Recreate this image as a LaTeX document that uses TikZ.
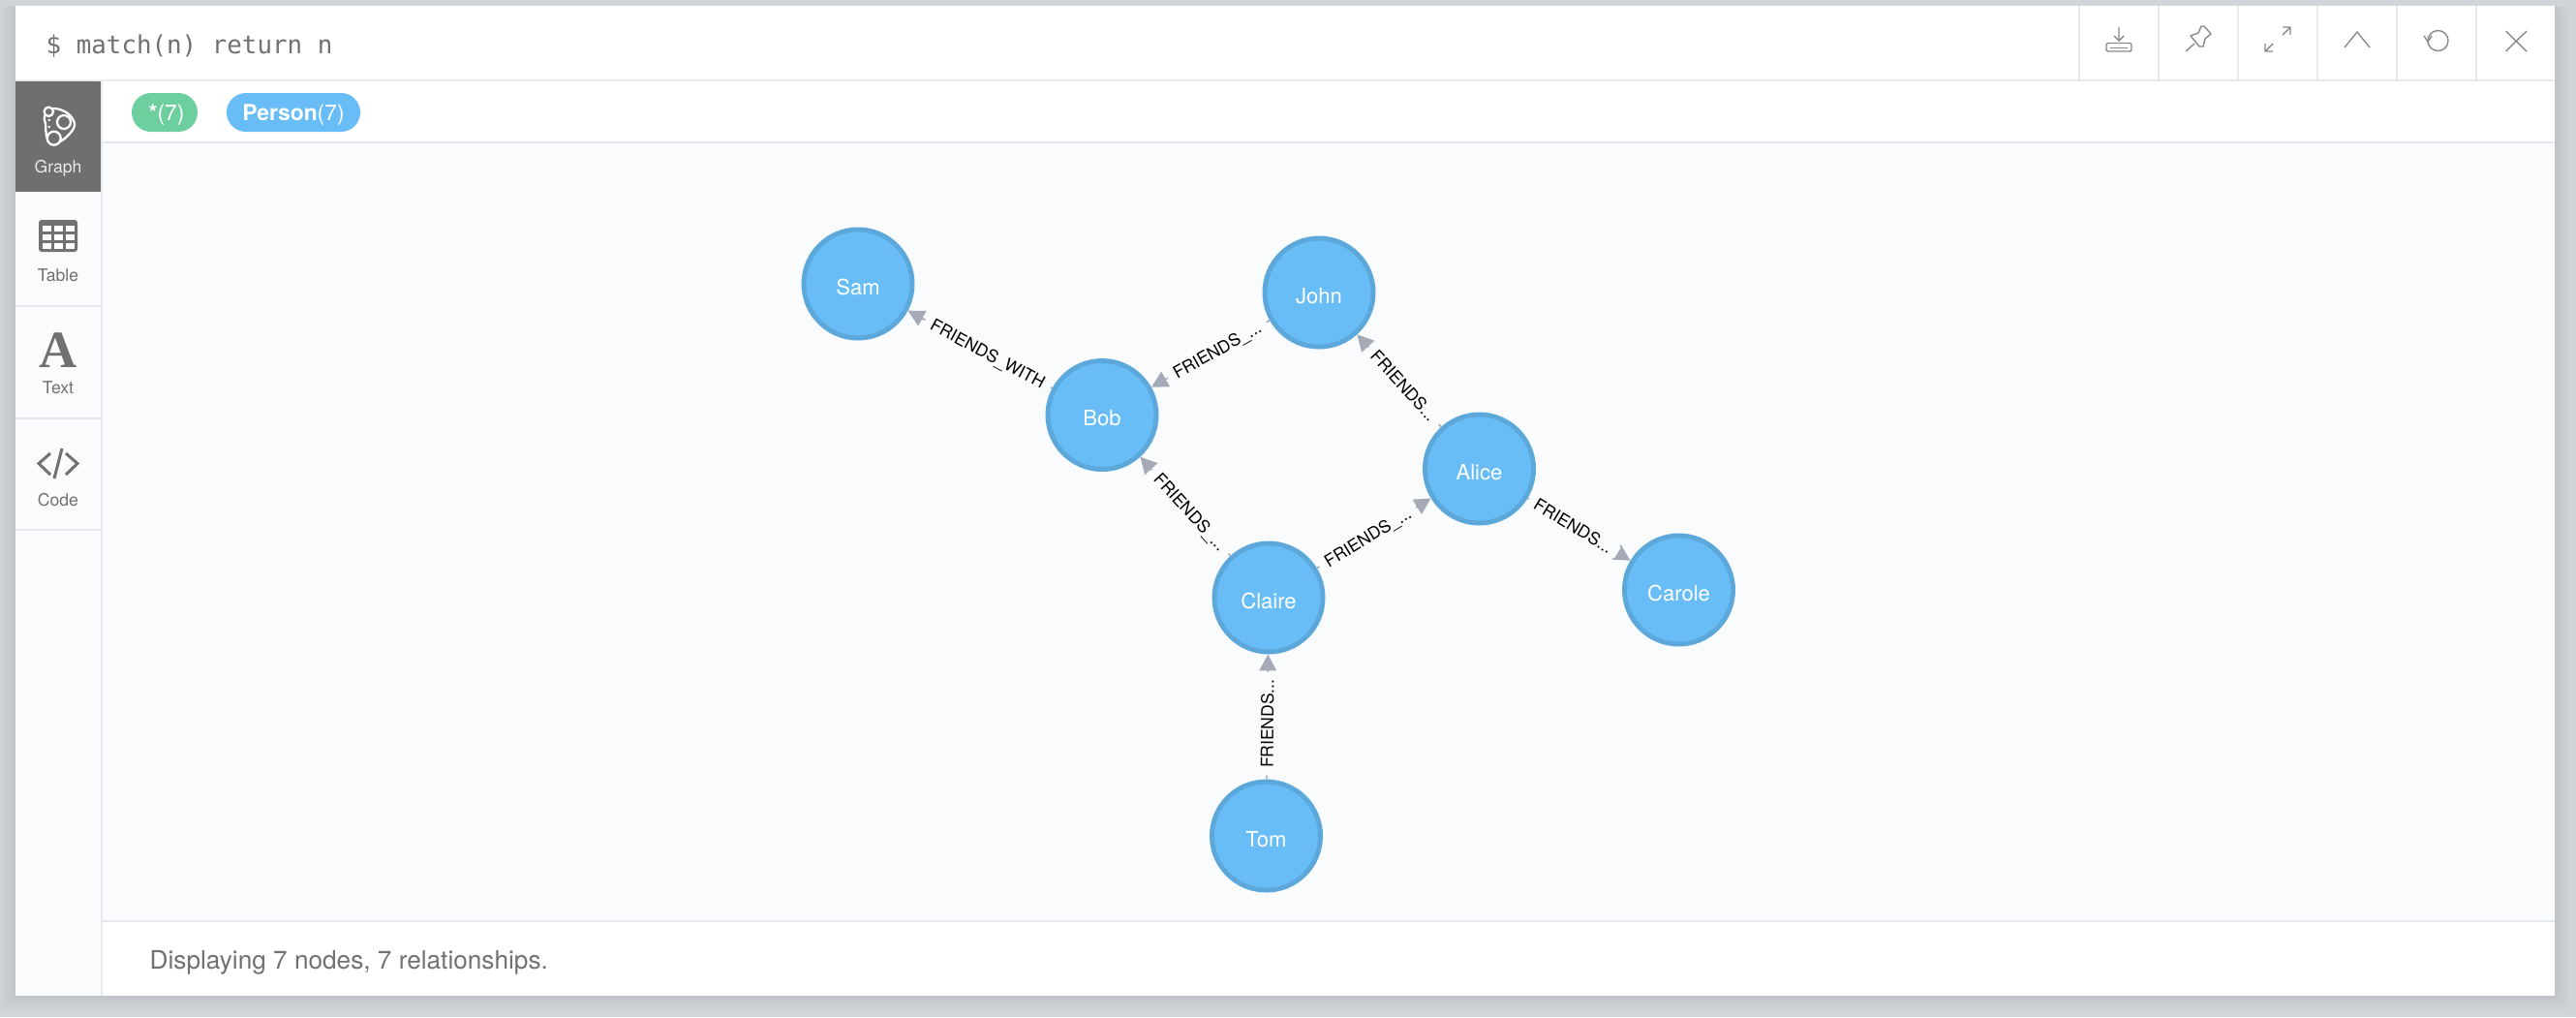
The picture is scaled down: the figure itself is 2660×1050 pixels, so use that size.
\documentclass[tikz,border=0pt]{standalone}
\usepackage{fontspec}
\setmainfont{TeX Gyre Heros}
\newfontfamily\querylinefont{DejaVu Sans Mono}
\newfontfamily\glyphfont{Liberation Serif}
\usetikzlibrary{arrows.meta}
\definecolor{page_grey}{HTML}{D1D4D9}
\definecolor{panel_bg}{HTML}{F9FBFD}
\definecolor{rule_grey}{HTML}{E6E9EF}
\definecolor{tab_grey}{HTML}{6F6F6F}
\definecolor{text_grey}{HTML}{717172}
\definecolor{icon_grey}{HTML}{8A8A8A}
\definecolor{node_blue}{HTML}{68BDF6}
\definecolor{node_edge}{HTML}{5CA8DB}
\definecolor{pill_green}{HTML}{6DCE9E}
\definecolor{tip_grey}{HTML}{A5ABB6}
\begin{document}
\begin{tikzpicture}[x=0.01cm,y=-0.01cm]
        \tikzstyle{node_style} = [circle, draw=node_edge, fill=node_blue, line width=1.4pt, minimum size=1.12cm, inner sep=0pt, text=white, font=\fontsize{6.26}{7}\selectfont, text height=6.26pt, text depth=0pt]
        \tikzstyle{arrow_style1} = [-{Triangle[length=4.8pt,width=5pt]}, tip_grey, line width=0.45pt]
        \tikzstyle{label_style} = [sloped, pos=0.445, fill=panel_bg, text=black, inner xsep=2.2pt, inner ysep=0pt, font=\fontsize{4.98}{6}\selectfont, text height=3.6pt, text depth=0pt]
        \tikzstyle{pill_style} = [text=white, rounded corners=0.2cm, minimum height=0.4cm, inner sep=0pt, font=\fontsize{6.5}{8}\selectfont, text height=5.6pt, text depth=1pt]
        \tikzstyle{side_label} = [anchor=base, inner sep=0pt, text=text_grey, font=\fontsize{5}{6}\selectfont]
        \tikzstyle{rule_style} = [rule_grey, line width=0.6pt]
        \tikzstyle{icon_thin} = [icon_grey, line width=0.4pt]
        \tikzstyle{icon_thick} = [text_grey, line width=0.85pt]

        \useasboundingbox (0,0) rectangle (2660,1050);
        \fill[page_grey] (0,0) rectangle (2660,1050);

        % Soft shadow under the window
        \foreach \s in {2,4,...,16} {
            \fill[black, opacity=0.008, rounded corners=0.05cm] (16-\s,6) rectangle (2638+\s,1028+\s);
        }

        % The window and its panels
        \fill[white] (16,6) rectangle (2638,1028);
        \fill[panel_bg] (16,84) rectangle (105,1028);
        \fill[panel_bg] (105,148) rectangle (2638,951);
        \fill[tab_grey] (16,84) rectangle (104,198);

        \draw[rule_style] (16,83) -- (2638,83);
        \draw[rule_style] (105,147) -- (2638,147);
        \draw[rule_style] (105,951) -- (2638,951);
        \draw[rule_style] (105,84) -- (105,1028);
        \foreach \y in {316,432,547} {
            \draw[rule_style] (16,\y) -- (104,\y);
        }
        \foreach \x in {2147,2229,2311,2393,2475,2557} {
            \draw[rule_style] (\x,6) -- (\x,83);
        }

        % Query line and status line
        \node[anchor=base west, inner sep=0pt, text=text_grey, font=\querylinefont\fontsize{7.35}{9}\selectfont] (query) at (47,55) {\$ match(n) return n};
        \node[anchor=base west, inner sep=0pt, text=text_grey, font=\fontsize{7.45}{9}\selectfont] (status) at (154,1000) {Displaying 7 nodes, 7 relationships.};

        % Legend pills
        \node[pill_style, fill=pill_green, minimum width=0.68cm] (pill_all) at (170,116) {\hspace{1.2pt}\textbf{*}(7)};
        \node[pill_style, fill=node_blue, minimum width=1.38cm] (pill_person) at (303,116) {\textbf{Person}(7)};

        % Sidebar labels
        \node[side_label, text=white!85!tab_grey] (tab_graph) at (60,178) {Graph};
        \node[side_label] (tab_table) at (60,290) {Table};
        \node[side_label] (tab_text) at (60,406) {Text};
        \node[side_label] (tab_code) at (60,522) {Code};

        % Graph icon
        \draw[white, line width=0.65pt, line join=round] plot[smooth cycle, tension=0.6] coordinates {(55,112) (70,117) (77,128) (72,138) (60,147) (49,143) (47,128) (46,120)};
        \draw[white, line width=0.65pt, fill=tab_grey] (50.3,115.3) circle (4.7);
        \draw[white, line width=0.65pt, fill=tab_grey] (66,126) circle (7);
        \draw[white, line width=0.65pt, fill=tab_grey] (55.7,142.7) circle (7);
        \fill[white] (50.7,124) circle (1.4) (50.7,131) circle (1.4);

        % Table icon
        \fill[text_grey, rounded corners=0.03cm] (40,227) rectangle (80,260);
        \foreach \x in {44,56,68} {
            \foreach \y in {233,242,251} {
                \fill[white] (\x,\y) rectangle +(9,6);
            }
        }

        % Text icon
        \node[inner sep=0pt, text=text_grey, font=\glyphfont\bfseries\fontsize{15.4}{18}\selectfont, anchor=base] (icon_a) at (60,379.6) {A};

        % Code icon
        \draw[icon_thick] (52,468) -- (40,478.5) -- (52,490);
        \draw[icon_thick] (64,463) -- (56,494);
        \draw[icon_thick] (68,468) -- (80,478.5) -- (68,490);

        % Toolbar icons
        \draw[icon_thin] (2188,28) -- (2188,42) (2183,37) -- (2188,42) -- (2193,37);
        \draw[icon_thin, rounded corners=0.02cm] (2175,44.5) rectangle (2201,53);
        \draw[icon_thin] (2179,49.5) -- (2197,49.5);
        \draw[icon_thin, line join=round] (2257,53) -- (2266,45) (2262,37) -- (2270,34) -- (2273,27) -- (2276,27) -- (2283,35) -- (2277,40) -- (2275,48) -- (2271,48) -- cycle;
        \draw[icon_thin] (2339,53) -- (2347,45) (2339,45) -- (2339,53) -- (2347,53);
        \draw[icon_thin] (2357,36) -- (2365,28) (2357,28) -- (2365,28) -- (2365,36);
        \draw[icon_thin] (2421,49) -- (2434,33) -- (2447,49);
        \draw[icon_thin] (2507,42) arc[start angle=180, end angle=-210, radius=10.5];
        \draw[icon_thin] (2503,37) -- (2507,43) -- (2511,37);
        \draw[icon_thin] (2587.5,32) -- (2609,53) (2609,32) -- (2587.5,53);

        % These are the people
        \node[node_style] (n_sam) at (886,293) {Sam};
        \node[node_style] (n_john) at (1362,302) {John};
        \node[node_style] (n_bob) at (1138,428.5) {Bob};
        \node[node_style] (n_alice) at (1527.5,484) {Alice};
        \node[node_style] (n_claire) at (1310,617) {Claire};
        \node[node_style] (n_carole) at (1733.5,609) {Carole};
        \node[node_style] (n_tom) at (1307.5,863) {Tom};

        % Then who is friends with whom
        \draw[arrow_style1] (n_bob) -- node[label_style] (l_bob_sam) {FRIENDS\_WITH} (n_sam);
        \draw[arrow_style1] (n_john) -- node[label_style] (l_john_bob) {FRIENDS\_...} (n_bob);
        \draw[arrow_style1] (n_alice) -- node[label_style] (l_alice_john) {FRIENDS...} (n_john);
        \draw[arrow_style1] (n_claire) -- node[label_style] (l_claire_bob) {FRIENDS\_...} (n_bob);
        \draw[arrow_style1] (n_claire) -- node[label_style] (l_claire_alice) {FRIENDS\_...} (n_alice);
        \draw[arrow_style1] (n_alice) -- node[label_style] (l_alice_carole) {FRIENDS...} (n_carole);
        \draw[arrow_style1] (n_tom) -- node[label_style] (l_tom_claire) {FRIENDS...} (n_claire);
    \end{tikzpicture}
\end{document}
